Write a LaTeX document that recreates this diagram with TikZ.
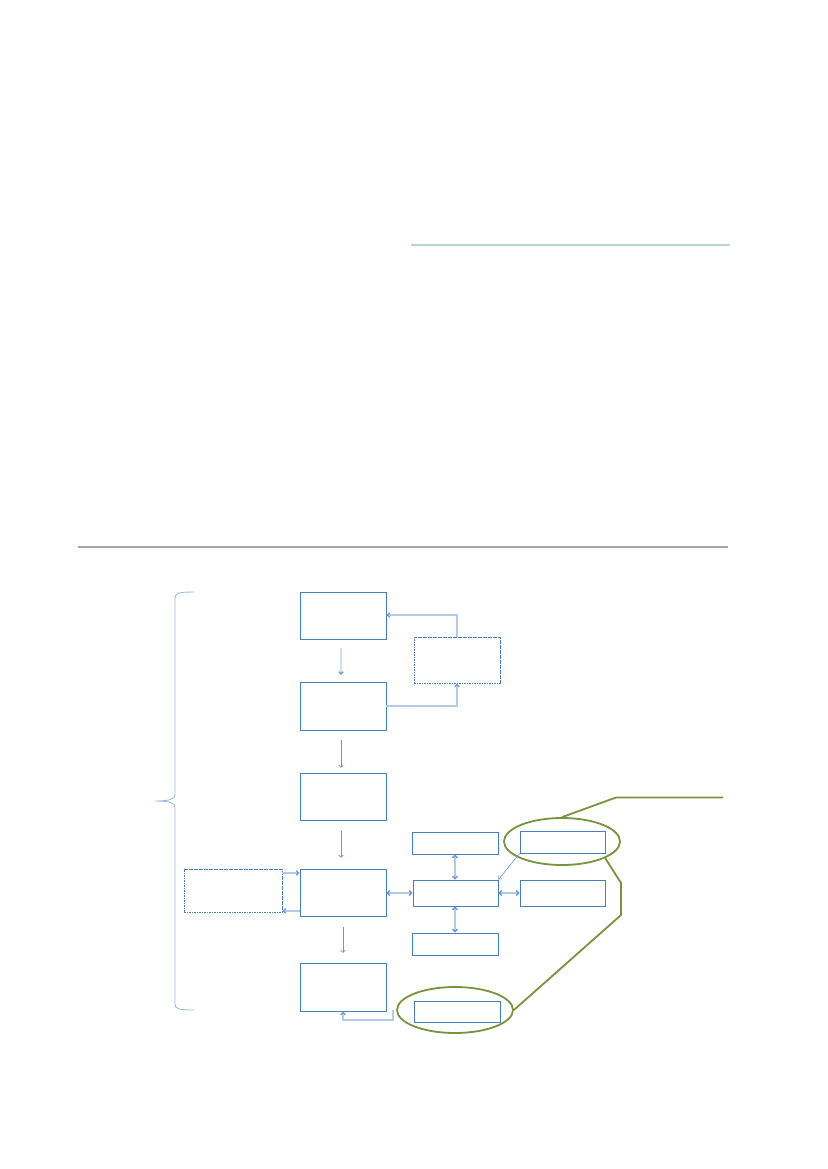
\documentclass[tikz,border=0pt]{standalone}
\usetikzlibrary{arrows.meta,shapes.geometric}
\definecolor{boxblue}{HTML}{4A7EBB}
\definecolor{arrblue}{HTML}{6F97CF}
\definecolor{paleblue}{HTML}{B4CAE8}
\definecolor{braceblue}{HTML}{9DBBE0}
\definecolor{olive}{HTML}{77933C}
\definecolor{tealline}{HTML}{B8D6DA}
\definecolor{grayline}{HTML}{A6A6A6}
\tikzset{
  box/.style={draw=boxblue, line width=0.9pt, rectangle, inner sep=0pt},
  dbox/.style={box, dash pattern=on 1.6pt off 0.9pt},
  oval/.style={draw=olive, line width=1.8pt, ellipse, inner sep=0pt, minimum width=116pt, minimum height=47pt},
  arr/.style={draw=arrblue, line width=0.7pt, -{Straight Barb[length=2.5pt,width=4.5pt]}},
  darr/.style={draw=paleblue, line width=1.3pt, {Straight Barb[length=2.5pt,width=5pt,color=arrblue]}-{Straight Barb[length=2.5pt,width=5pt,color=arrblue]}},
  farr/.style={draw=paleblue, line width=1.2pt, -{Straight Barb[length=2.5pt,width=4.5pt,color=arrblue]}},
  callout/.style={draw=olive, line width=1.8pt}
}
\begin{document}
\begin{tikzpicture}[x=1pt,y=-1pt]
\useasboundingbox (0,0) rectangle (827,1169);
% rules
\draw[tealline, line width=1.1pt] (411,245) -- (730,245);
\draw[grayline, line width=1.3pt] (78,547) -- (728,547);
% main column
\node[box, minimum width=86pt, minimum height=47pt] (b1) at (343,615.5) {};
\node[box, minimum width=86pt, minimum height=48pt] (b2) at (343,706) {};
\node[box, minimum width=86pt, minimum height=47pt] (b3) at (343,796.5) {};
\node[box, minimum width=86pt, minimum height=47pt] (b4) at (343,892.5) {};
\node[box, minimum width=86pt, minimum height=48pt] (b5) at (343,987) {};
% dashed boxes
\node[dbox, minimum width=86pt, minimum height=46pt] (d1) at (457,660) {};
\node[dbox, minimum width=98pt, minimum height=43pt] (d2) at (233,890.5) {};
% hub boxes
\node[box, minimum width=85pt, minimum height=26pt] (c0) at (455.5,893) {};
\node[box, minimum width=86pt, minimum height=22pt] (ct) at (455,843) {};
\node[box, minimum width=86pt, minimum height=22pt] (cb) at (455,944) {};
\node[box, minimum width=85pt, minimum height=22pt] (r1) at (562.5,842) {};
\node[box, minimum width=85pt, minimum height=26pt] (r2) at (562.5,893) {};
\node[box, minimum width=86pt, minimum height=21pt] (e2box) at (457.5,1011.5) {};
% ovals
\node[oval] (e1) at (562,841.5) {};
\node[oval, minimum height=46pt] (e2) at (455,1010) {};
% vertical flow arrows
\coordinate (a1s) at (341,648); \coordinate (a1e) at (341,675);
\draw[farr, draw=paleblue!60] (a1s) -- (a1e);
\coordinate (a2s) at (341,740); \coordinate (a2e) at (341,768);
\draw[arr] (a2s) -- (a2e);
\coordinate (a3s) at (341,831); \coordinate (a3e) at (341,858);
\draw[arr] (a3s) -- (a3e);
\coordinate (a4s) at (343,927); \coordinate (a4e) at (343,953);
\draw[arr] (a4s) -- (a4e);
% feedback loop b1/b2/d1
\draw[farr] (b2.east) -- (d1.south |- b2.east) -- (d1.south);
\coordinate (fb) at (457,615);
\draw[farr] (d1.north) -- (fb) -- (b1.east |- fb);
% d2 <-> b4
\draw[farr] ([yshift=17.5pt]d2.east) -- ([yshift=17.5pt]d2.east -| b4.west);
\draw[farr] ([yshift=-18.5pt]b4.west) -- ([yshift=-18.5pt]b4.west -| d2.east);
% hub double arrows
\draw[darr] (b4.east |- c0.west) -- (c0.west);
\draw[darr] (c0.east) -- (r2.west);
\draw[darr] (ct.south) -- (ct.south |- c0.north);
\draw[darr] (c0.south -| cb.north) -- (cb.north);
\draw[arr, line width=0.6pt] (r1.south west) -- (c0.north east);
% bottom feedback
\coordinate (fb2) at (393,1010);
\coordinate (fb3) at (393,1020);
\draw[farr] (fb2) -- (fb3) -- (b5.south |- fb3) -- (b5.south);
% callouts
\coordinate (k1) at (616,797.5);
\coordinate (k2) at (723,797.5);
\draw[callout] (e1.north) -- (k1) -- (k2);
\coordinate (k3) at (621,883);
\coordinate (k4) at (621,915);
\draw[callout, line join=round] (e1.-21) -- (k3) -- (k4) -- (e2.east);
% brace
\draw[braceblue, line width=0.9pt] (194,592) .. controls (179,592) and (175,593) .. (175,598) -- (175,795) .. controls (175,799) and (170,801) .. (155,801) .. controls (170,801) and (175,803) .. (175,807) -- (175,1004) .. controls (175,1009) and (179,1010) .. (194,1010);
\end{tikzpicture}
\end{document}
